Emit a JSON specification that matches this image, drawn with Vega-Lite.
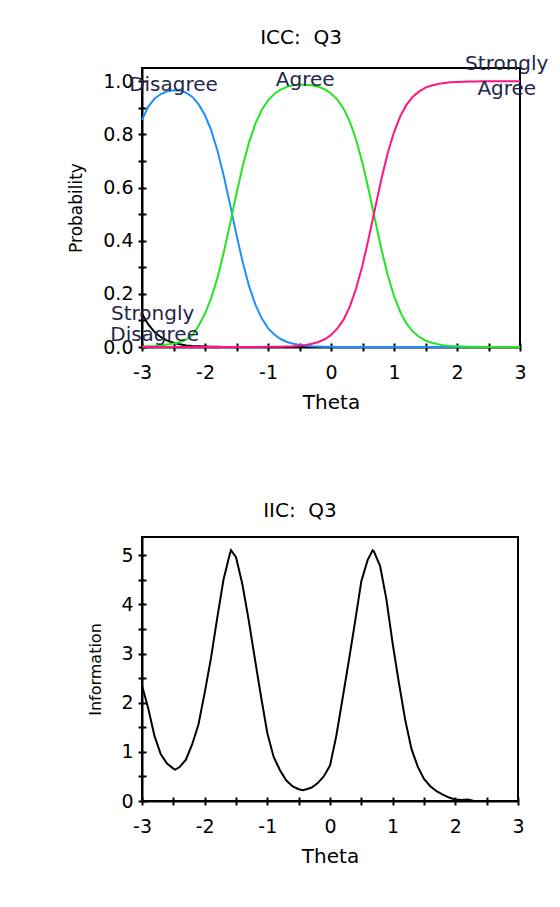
{
  "$schema": "https://vega.github.io/schema/vega-lite/v6.json",
  "padding": {"left": 66, "top": 27, "right": 0, "bottom": 0},
  "background": "white",
  "spacing": 87,
  "config": {
    "view": {"stroke": "black", "strokeWidth": 2},
    "font": "DejaVu Sans",
    "title": {"font": "DejaVu Sans", "fontSize": 20, "fontWeight": "normal", "color": "black"},
    "axis": {
      "domainColor": "black", "domainWidth": 2, "tickColor": "black", "tickWidth": 2,
      "labelColor": "black", "titleColor": "black", "labelFont": "DejaVu Sans", "titleFont": "DejaVu Sans",
      "titleFontWeight": "normal", "labelFontSize": 19, "grid": false, "labelFlush": false, "labelOverlap": false
    }
  },
  "datasets": {
    "icc": [
      {"theta": -3.0, "cat": "Strongly Disagree", "p": 0.125},
      {"theta": -2.9, "cat": "Strongly Disagree", "p": 0.085},
      {"theta": -2.8, "cat": "Strongly Disagree", "p": 0.056},
      {"theta": -2.7, "cat": "Strongly Disagree", "p": 0.037},
      {"theta": -2.6, "cat": "Strongly Disagree", "p": 0.024},
      {"theta": -2.5, "cat": "Strongly Disagree", "p": 0.016},
      {"theta": -2.4, "cat": "Strongly Disagree", "p": 0.010},
      {"theta": -2.3, "cat": "Strongly Disagree", "p": 0.006},
      {"theta": -2.2, "cat": "Strongly Disagree", "p": 0.004},
      {"theta": -2.1, "cat": "Strongly Disagree", "p": 0.003},
      {"theta": -2.0, "cat": "Strongly Disagree", "p": 0.002},
      {"theta": -1.9, "cat": "Strongly Disagree", "p": 0.001},
      {"theta": -1.8, "cat": "Strongly Disagree", "p": 0.001},
      {"theta": -1.7, "cat": "Strongly Disagree", "p": 0.0},
      {"theta": -1.0, "cat": "Strongly Disagree", "p": 0.0},
      {"theta": -0.4, "cat": "Strongly Disagree", "p": 0.0},

      {"theta": -3.0, "cat": "Disagree", "p": 0.855},
      {"theta": -2.9, "cat": "Disagree", "p": 0.905},
      {"theta": -2.8, "cat": "Disagree", "p": 0.935},
      {"theta": -2.7, "cat": "Disagree", "p": 0.952},
      {"theta": -2.6, "cat": "Disagree", "p": 0.962},
      {"theta": -2.5, "cat": "Disagree", "p": 0.966},
      {"theta": -2.4, "cat": "Disagree", "p": 0.965},
      {"theta": -2.3, "cat": "Disagree", "p": 0.957},
      {"theta": -2.2, "cat": "Disagree", "p": 0.941},
      {"theta": -2.1, "cat": "Disagree", "p": 0.913},
      {"theta": -2.0, "cat": "Disagree", "p": 0.872},
      {"theta": -1.9, "cat": "Disagree", "p": 0.814},
      {"theta": -1.8, "cat": "Disagree", "p": 0.737},
      {"theta": -1.7, "cat": "Disagree", "p": 0.642},
      {"theta": -1.6, "cat": "Disagree", "p": 0.534},
      {"theta": -1.5, "cat": "Disagree", "p": 0.422},
      {"theta": -1.4, "cat": "Disagree", "p": 0.318},
      {"theta": -1.3, "cat": "Disagree", "p": 0.229},
      {"theta": -1.2, "cat": "Disagree", "p": 0.159},
      {"theta": -1.1, "cat": "Disagree", "p": 0.108},
      {"theta": -1.0, "cat": "Disagree", "p": 0.071},
      {"theta": -0.9, "cat": "Disagree", "p": 0.047},
      {"theta": -0.8, "cat": "Disagree", "p": 0.030},
      {"theta": -0.7, "cat": "Disagree", "p": 0.019},
      {"theta": -0.6, "cat": "Disagree", "p": 0.012},
      {"theta": -0.5, "cat": "Disagree", "p": 0.008},
      {"theta": -0.4, "cat": "Disagree", "p": 0.005},
      {"theta": -0.3, "cat": "Disagree", "p": 0.003},
      {"theta": -0.2, "cat": "Disagree", "p": 0.002},
      {"theta": -0.1, "cat": "Disagree", "p": 0.001},
      {"theta": 0.0, "cat": "Disagree", "p": 0.001},
      {"theta": 0.1, "cat": "Disagree", "p": 0.0},
      {"theta": 1.0, "cat": "Disagree", "p": 0.0},
      {"theta": 2.0, "cat": "Disagree", "p": 0.0},
      {"theta": 3.0, "cat": "Disagree", "p": 0.0},

      {"theta": -3.0, "cat": "Agree", "p": 0.002},
      {"theta": -2.9, "cat": "Agree", "p": 0.003},
      {"theta": -2.8, "cat": "Agree", "p": 0.004},
      {"theta": -2.7, "cat": "Agree", "p": 0.006},
      {"theta": -2.6, "cat": "Agree", "p": 0.009},
      {"theta": -2.5, "cat": "Agree", "p": 0.013},
      {"theta": -2.4, "cat": "Agree", "p": 0.018},
      {"theta": -2.3, "cat": "Agree", "p": 0.028},
      {"theta": -2.2, "cat": "Agree", "p": 0.045},
      {"theta": -2.1, "cat": "Agree", "p": 0.080},
      {"theta": -2.0, "cat": "Agree", "p": 0.126},
      {"theta": -1.9, "cat": "Agree", "p": 0.185},
      {"theta": -1.8, "cat": "Agree", "p": 0.262},
      {"theta": -1.7, "cat": "Agree", "p": 0.358},
      {"theta": -1.6, "cat": "Agree", "p": 0.466},
      {"theta": -1.5, "cat": "Agree", "p": 0.578},
      {"theta": -1.4, "cat": "Agree", "p": 0.682},
      {"theta": -1.3, "cat": "Agree", "p": 0.771},
      {"theta": -1.2, "cat": "Agree", "p": 0.841},
      {"theta": -1.1, "cat": "Agree", "p": 0.892},
      {"theta": -1.0, "cat": "Agree", "p": 0.928},
      {"theta": -0.9, "cat": "Agree", "p": 0.952},
      {"theta": -0.8, "cat": "Agree", "p": 0.969},
      {"theta": -0.7, "cat": "Agree", "p": 0.979},
      {"theta": -0.6, "cat": "Agree", "p": 0.985},
      {"theta": -0.5, "cat": "Agree", "p": 0.987},
      {"theta": -0.4, "cat": "Agree", "p": 0.987},
      {"theta": -0.3, "cat": "Agree", "p": 0.985},
      {"theta": -0.2, "cat": "Agree", "p": 0.979},
      {"theta": -0.1, "cat": "Agree", "p": 0.970},
      {"theta": 0.0, "cat": "Agree", "p": 0.954},
      {"theta": 0.1, "cat": "Agree", "p": 0.931},
      {"theta": 0.2, "cat": "Agree", "p": 0.897},
      {"theta": 0.3, "cat": "Agree", "p": 0.847},
      {"theta": 0.4, "cat": "Agree", "p": 0.779},
      {"theta": 0.5, "cat": "Agree", "p": 0.692},
      {"theta": 0.6, "cat": "Agree", "p": 0.589},
      {"theta": 0.7, "cat": "Agree", "p": 0.478},
      {"theta": 0.8, "cat": "Agree", "p": 0.368},
      {"theta": 0.9, "cat": "Agree", "p": 0.271},
      {"theta": 1.0, "cat": "Agree", "p": 0.192},
      {"theta": 1.1, "cat": "Agree", "p": 0.131},
      {"theta": 1.2, "cat": "Agree", "p": 0.088},
      {"theta": 1.3, "cat": "Agree", "p": 0.058},
      {"theta": 1.4, "cat": "Agree", "p": 0.038},
      {"theta": 1.5, "cat": "Agree", "p": 0.024},
      {"theta": 1.6, "cat": "Agree", "p": 0.016},
      {"theta": 1.7, "cat": "Agree", "p": 0.010},
      {"theta": 1.8, "cat": "Agree", "p": 0.006},
      {"theta": 1.9, "cat": "Agree", "p": 0.004},
      {"theta": 2.0, "cat": "Agree", "p": 0.003},
      {"theta": 2.1, "cat": "Agree", "p": 0.002},
      {"theta": 2.2, "cat": "Agree", "p": 0.001},
      {"theta": 2.3, "cat": "Agree", "p": 0.001},
      {"theta": 2.4, "cat": "Agree", "p": 0.0},
      {"theta": 3.0, "cat": "Agree", "p": 0.0},

      {"theta": -3.0, "cat": "Strongly Agree", "p": 0.0},
      {"theta": -2.0, "cat": "Strongly Agree", "p": 0.0},
      {"theta": -1.1, "cat": "Strongly Agree", "p": 0.0},
      {"theta": -1.0, "cat": "Strongly Agree", "p": 0.001},
      {"theta": -0.9, "cat": "Strongly Agree", "p": 0.001},
      {"theta": -0.8, "cat": "Strongly Agree", "p": 0.001},
      {"theta": -0.7, "cat": "Strongly Agree", "p": 0.002},
      {"theta": -0.6, "cat": "Strongly Agree", "p": 0.003},
      {"theta": -0.5, "cat": "Strongly Agree", "p": 0.005},
      {"theta": -0.4, "cat": "Strongly Agree", "p": 0.008},
      {"theta": -0.3, "cat": "Strongly Agree", "p": 0.012},
      {"theta": -0.2, "cat": "Strongly Agree", "p": 0.019},
      {"theta": -0.1, "cat": "Strongly Agree", "p": 0.029},
      {"theta": 0.0, "cat": "Strongly Agree", "p": 0.045},
      {"theta": 0.1, "cat": "Strongly Agree", "p": 0.069},
      {"theta": 0.2, "cat": "Strongly Agree", "p": 0.103},
      {"theta": 0.3, "cat": "Strongly Agree", "p": 0.153},
      {"theta": 0.4, "cat": "Strongly Agree", "p": 0.221},
      {"theta": 0.5, "cat": "Strongly Agree", "p": 0.308},
      {"theta": 0.6, "cat": "Strongly Agree", "p": 0.411},
      {"theta": 0.7, "cat": "Strongly Agree", "p": 0.522},
      {"theta": 0.8, "cat": "Strongly Agree", "p": 0.632},
      {"theta": 0.9, "cat": "Strongly Agree", "p": 0.729},
      {"theta": 1.0, "cat": "Strongly Agree", "p": 0.808},
      {"theta": 1.1, "cat": "Strongly Agree", "p": 0.869},
      {"theta": 1.2, "cat": "Strongly Agree", "p": 0.912},
      {"theta": 1.3, "cat": "Strongly Agree", "p": 0.942},
      {"theta": 1.4, "cat": "Strongly Agree", "p": 0.962},
      {"theta": 1.5, "cat": "Strongly Agree", "p": 0.976},
      {"theta": 1.6, "cat": "Strongly Agree", "p": 0.984},
      {"theta": 1.7, "cat": "Strongly Agree", "p": 0.990},
      {"theta": 1.8, "cat": "Strongly Agree", "p": 0.994},
      {"theta": 1.9, "cat": "Strongly Agree", "p": 0.996},
      {"theta": 2.0, "cat": "Strongly Agree", "p": 0.997},
      {"theta": 2.1, "cat": "Strongly Agree", "p": 0.998},
      {"theta": 2.2, "cat": "Strongly Agree", "p": 0.999},
      {"theta": 2.3, "cat": "Strongly Agree", "p": 0.999},
      {"theta": 2.4, "cat": "Strongly Agree", "p": 1.0},
      {"theta": 3.0, "cat": "Strongly Agree", "p": 1.0}
    ],
    "labels": [
      {"theta": -2.5, "p": 0.986, "label": "Disagree"},
      {"theta": -0.41, "p": 1.006, "label": "Agree"},
      {"theta": 2.79, "p": 1.065, "label": "Strongly"},
      {"theta": 2.79, "p": 0.971, "label": "Agree"},
      {"theta": -2.83, "p": 0.126, "label": "Strongly"},
      {"theta": -2.8, "p": 0.044, "label": "Disagree"}
    ],
    "iic": [
      {"theta": -3.0, "info": 2.35},
      {"theta": -2.9, "info": 1.88},
      {"theta": -2.8, "info": 1.32},
      {"theta": -2.7, "info": 0.95},
      {"theta": -2.6, "info": 0.76},
      {"theta": -2.5, "info": 0.66},
      {"theta": -2.47, "info": 0.64},
      {"theta": -2.4, "info": 0.69},
      {"theta": -2.3, "info": 0.84},
      {"theta": -2.2, "info": 1.15},
      {"theta": -2.1, "info": 1.55},
      {"theta": -2.0, "info": 2.2},
      {"theta": -1.9, "info": 2.9},
      {"theta": -1.8, "info": 3.72},
      {"theta": -1.7, "info": 4.5},
      {"theta": -1.6, "info": 5.02},
      {"theta": -1.58, "info": 5.1},
      {"theta": -1.5, "info": 4.96},
      {"theta": -1.4, "info": 4.42},
      {"theta": -1.3, "info": 3.7},
      {"theta": -1.2, "info": 2.9},
      {"theta": -1.1, "info": 2.12},
      {"theta": -1.0, "info": 1.38},
      {"theta": -0.9, "info": 0.9},
      {"theta": -0.8, "info": 0.63},
      {"theta": -0.7, "info": 0.42},
      {"theta": -0.6, "info": 0.3},
      {"theta": -0.5, "info": 0.24},
      {"theta": -0.43, "info": 0.22},
      {"theta": -0.3, "info": 0.27},
      {"theta": -0.2, "info": 0.36},
      {"theta": -0.1, "info": 0.5},
      {"theta": 0.0, "info": 0.72},
      {"theta": 0.1, "info": 1.32},
      {"theta": 0.2, "info": 2.08},
      {"theta": 0.3, "info": 2.85},
      {"theta": 0.4, "info": 3.65},
      {"theta": 0.5, "info": 4.47},
      {"theta": 0.6, "info": 4.9},
      {"theta": 0.68, "info": 5.1},
      {"theta": 0.7, "info": 5.08},
      {"theta": 0.8, "info": 4.78},
      {"theta": 0.9, "info": 4.1},
      {"theta": 1.0, "info": 3.2},
      {"theta": 1.1, "info": 2.4},
      {"theta": 1.2, "info": 1.65},
      {"theta": 1.3, "info": 1.06},
      {"theta": 1.4, "info": 0.7},
      {"theta": 1.5, "info": 0.45},
      {"theta": 1.6, "info": 0.3},
      {"theta": 1.7, "info": 0.2},
      {"theta": 1.8, "info": 0.13},
      {"theta": 1.9, "info": 0.07},
      {"theta": 2.0, "info": 0.03},
      {"theta": 2.1, "info": 0.02},
      {"theta": 2.2, "info": 0.03},
      {"theta": 2.3, "info": 0.0},
      {"theta": 3.0, "info": 0.0}
    ]
  },
  "vconcat": [
    {
      "width": 378,
      "height": 279,
      "title": {"text": "ICC: \u00a0Q3", "dx": -30, "offset": 6},
      "layer": [
        {
          "data": {"name": "icc"},
          "mark": {"type": "line", "strokeWidth": 2},
          "encoding": {
            "x": {
              "field": "theta", "type": "quantitative",
              "scale": {"domain": [-3, 3], "nice": false, "zero": false},
              "axis": {
                "orient": "bottom",
                "title": "Theta", "titleFontSize": 20, "titlePadding": 10,
                "values": [-3, -2.5, -2, -1.5, -1, -0.5, 0, 0.5, 1, 1.5, 2, 2.5, 3],
                "labelExpr": "datum.value % 1 == 0 ? '' + datum.value : ''",
                "tickSize": 4, "labelPadding": 12
              }
            },
            "y": {
              "field": "p", "type": "quantitative",
              "scale": {"domain": [0, 1.05], "nice": false},
              "axis": {
                "orient": "left",
                "title": "Probability", "titleFontSize": 17, "titlePadding": 17,
                "values": [0, 0.1, 0.2, 0.3, 0.4, 0.5, 0.6, 0.7, 0.8, 0.9, 1.0],
                "labelExpr": "round(datum.value * 10) % 2 == 0 ? format(datum.value, '.1f') : ''",
                "tickSize": 4, "labelPadding": 5
              }
            },
            "color": {
              "field": "cat", "type": "nominal",
              "scale": {
                "domain": ["Strongly Disagree", "Disagree", "Agree", "Strongly Agree"],
                "range": ["#000000", "#1f8fff", "#22e622", "#ff1482"]
              },
              "legend": null
            }
          }
        },
        {
          "data": {"name": "labels"},
          "mark": {"type": "text", "font": "DejaVu Sans", "fontSize": 20, "color": "#26264c", "align": "center", "baseline": "middle"},
          "encoding": {
            "x": {
              "field": "theta", "type": "quantitative",
              "axis": {"orient": "bottom", "title": null, "labels": false, "domain": false,
                       "values": [-3, -2.5, -2, -1.5, -1, -0.5, 0, 0.5, 1, 1.5, 2, 2.5, 3], "tickSize": -4}
            },
            "y": {
              "field": "p", "type": "quantitative",
              "axis": {"orient": "left", "title": null, "labels": false, "domain": false,
                       "values": [0, 0.1, 0.2, 0.3, 0.4, 0.5, 0.6, 0.7, 0.8, 0.9, 1.0], "tickSize": -4}
            },
            "text": {"field": "label", "type": "nominal"}
          }
        }
      ],
      "resolve": {"axis": {"x": "independent", "y": "independent"}}
    },
    {
      "width": 376,
      "height": 264,
      "title": {"text": "IIC: \u00a0Q3", "dx": -30, "offset": 16},
      "data": {"name": "iic"},
      "layer": [
        {
          "mark": {"type": "line", "strokeWidth": 2, "strokeOpacity": 0},
          "encoding": {
            "x": {
              "field": "theta", "type": "quantitative",
              "scale": {"domain": [-3, 3], "nice": false, "zero": false},
              "axis": {"orient": "bottom", "title": null, "labels": false, "domain": false,
                       "values": [-3, -2.5, -2, -1.5, -1, -0.5, 0, 0.5, 1, 1.5, 2, 2.5, 3], "tickSize": -4}
            },
            "y": {
              "field": "info", "type": "quantitative",
              "scale": {"domain": [0, 5.37], "nice": false},
              "axis": {"orient": "left", "title": null, "labels": false, "domain": false,
                       "values": [0, 0.5, 1, 1.5, 2, 2.5, 3, 3.5, 4, 4.5, 5], "tickSize": -4}
            }
          }
        },
        {
          "mark": {"type": "line", "strokeWidth": 2, "color": "black"},
          "encoding": {
            "x": {
              "field": "theta", "type": "quantitative",
              "axis": {
                "orient": "bottom",
                "title": "Theta", "titleFontSize": 20, "titlePadding": 10,
                "values": [-3, -2.5, -2, -1.5, -1, -0.5, 0, 0.5, 1, 1.5, 2, 2.5, 3],
                "labelExpr": "datum.value % 1 == 0 ? '' + datum.value : ''",
                "tickSize": 4, "labelPadding": 12
              }
            },
            "y": {
              "field": "info", "type": "quantitative",
              "axis": {
                "orient": "left",
                "title": "Information", "titleFontSize": 16, "titlePadding": 17,
                "values": [0, 0.5, 1, 1.5, 2, 2.5, 3, 3.5, 4, 4.5, 5],
                "labelExpr": "datum.value % 1 == 0 ? '' + datum.value : ''",
                "tickSize": 4, "labelPadding": 5
              }
            }
          }
        }
      ],
      "resolve": {"axis": {"x": "independent", "y": "independent"}}
    }
  ]
}
